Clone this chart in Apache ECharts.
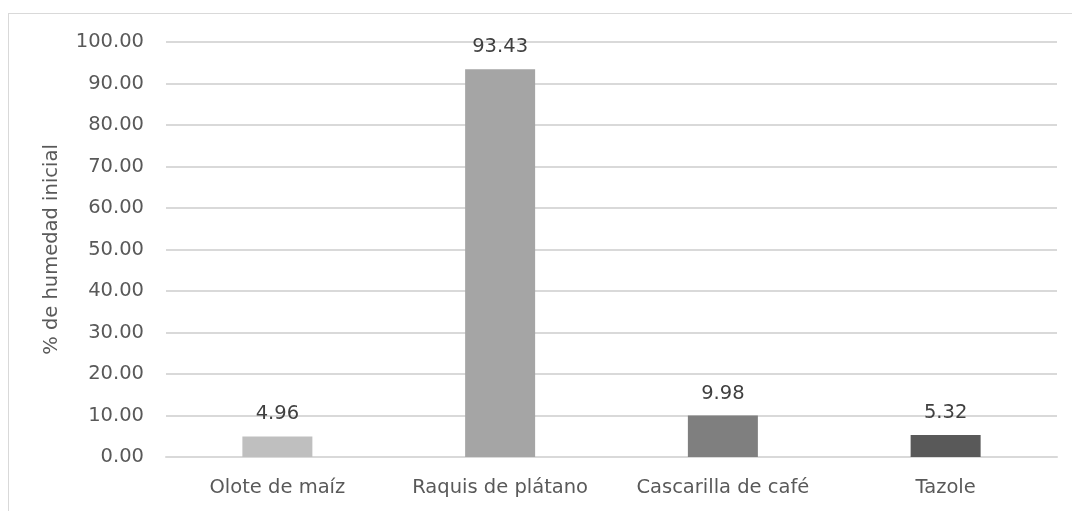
<!DOCTYPE html>
<html><head><meta charset="utf-8">
<script src="https://cdn.jsdelivr.net/npm/echarts@6/dist/echarts.min.js"></script>
<style>html,body{margin:0;padding:0;background:#fff}#frame{position:absolute;left:8px;top:13px;width:1080px;height:520px;border:1px solid #d9d9d9;box-sizing:border-box}#c{position:absolute;left:0;top:0;width:1072px;height:511px}</style>
</head><body><div id="frame"></div><div id="c"></div>
<script>
const categories = ["Olote de maíz", "Raquis de plátano", "Cascarilla de café", "Tazole"];
const values = [4.96, 93.43, 9.98, 5.32];
const barColors = ["#bfbfbf", "#a5a5a5", "#7f7f7f", "#595959"];
const yAxisTitle = "% de humedad inicial";
const chart = echarts.init(document.getElementById('c'), null, {renderer:'canvas'});
const font = "DejaVu Sans";
chart.setOption({
  animation:false,
  grid:{left:166,right:15,top:42,bottom:54,containLabel:false},
  xAxis:{type:'category',data:categories,
    axisLine:{lineStyle:{color:'#d9d9d9',width:2}},axisTick:{show:false},
    axisLabel:{interval:0,hideOverlap:false,color:'#595959',fontFamily:font,fontSize:19.5,margin:21}},
  yAxis:{type:'value',min:0,max:100,interval:10,
    name:yAxisTitle,nameLocation:'middle',nameGap:104,nameRotate:90,
    nameTextStyle:{color:'#595959',fontFamily:font,fontSize:19.5},
    axisLine:{show:false},axisTick:{show:false},
    splitLine:{lineStyle:{color:'#d9d9d9',width:2}},
    axisLabel:{color:'#595959',fontFamily:font,fontSize:19.5,margin:22,formatter:v=>v.toFixed(2)}},
  series:[{type:'bar',barWidth:70,
    data:values.map((v,i)=>({value:v,itemStyle:{color:barColors[i]}})),
    label:{show:true,position:'top',distance:12,color:'#404040',fontFamily:font,fontSize:19.5,formatter:p=>p.value.toFixed(2)}}]
});
</script></body></html>
